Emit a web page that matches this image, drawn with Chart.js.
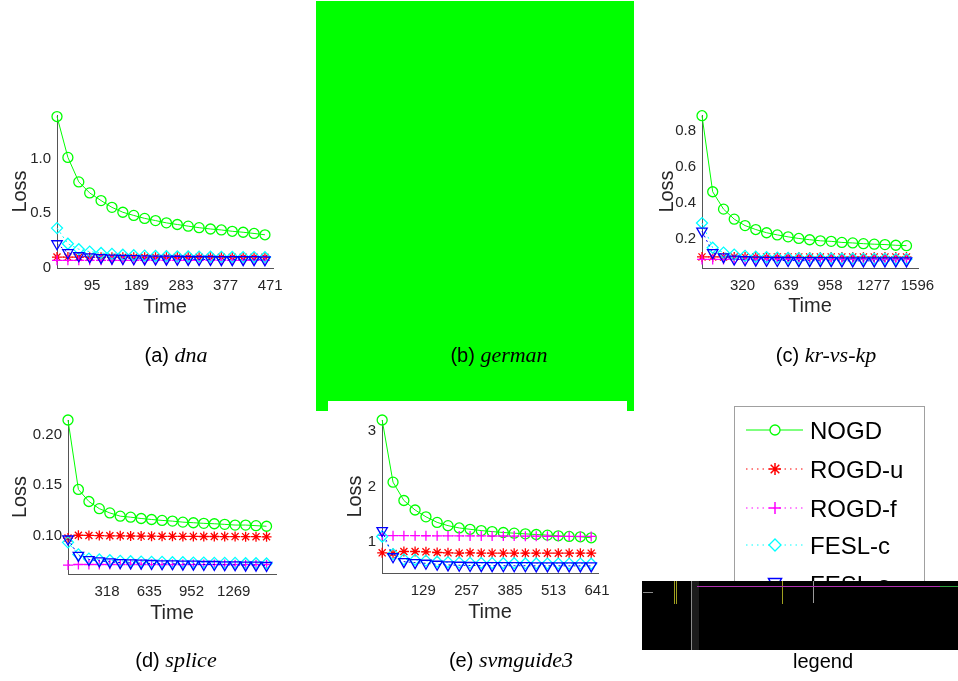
<!DOCTYPE html>
<html>
<head>
<meta charset="utf-8">
<script src="https://cdn.jsdelivr.net/npm/chart.js@4.4.1/dist/chart.umd.min.js"></script>
<style>
  body { margin: 0; background: #fff; }
  #page { position: relative; width: 958px; height: 681px; overflow: hidden; }
  canvas { position: absolute; }
  svg { position: absolute; left: 0; top: 0; }
</style>
</head>
<body>
<div id="page">
  <canvas id="dna" width="290" height="217" style="left:10px;top:100px"></canvas>
  <canvas id="krvskp" width="288" height="216" style="left:657px;top:100px"></canvas>
  <canvas id="splice" width="295" height="218" style="left:10px;top:405px"></canvas>
  <canvas id="svmguide3" width="280" height="217" style="left:345px;top:405px"></canvas>
  <svg width="958" height="681" xmlns="http://www.w3.org/2000/svg">
    <!-- captions -->
    <g fill="#000">
      <text x="176" y="362" text-anchor="middle"><tspan font-family="Liberation Sans" font-size="20">(a) </tspan><tspan font-family="Liberation Serif" font-style="italic" font-size="22">dna</tspan></text>
      <text x="826" y="362" text-anchor="middle"><tspan font-family="Liberation Sans" font-size="20">(c) </tspan><tspan font-family="Liberation Serif" font-style="italic" font-size="22">kr-vs-kp</tspan></text>
      <text x="176" y="667" text-anchor="middle"><tspan font-family="Liberation Sans" font-size="20">(d) </tspan><tspan font-family="Liberation Serif" font-style="italic" font-size="22">splice</tspan></text>
      <text x="511" y="667" text-anchor="middle"><tspan font-family="Liberation Sans" font-size="20">(e) </tspan><tspan font-family="Liberation Serif" font-style="italic" font-size="22">svmguide3</tspan></text>
      <text x="823" y="668" text-anchor="middle" font-family="Liberation Sans" font-size="20">legend</text>
    </g>
    <!-- green block over panel (b) -->
    <rect x="316" y="1" width="318" height="400" fill="#00ff00"/>
    <rect x="316" y="401" width="12" height="10" fill="#00ff00"/>
    <rect x="627" y="401" width="7" height="10" fill="#00ff00"/>
    <text x="499" y="362" text-anchor="middle" fill="#000"><tspan font-family="Liberation Sans" font-size="20">(b) </tspan><tspan font-family="Liberation Serif" font-style="italic" font-size="22">german</tspan></text>
    <!-- legend panel -->
    <g id="legend"></g>
    <!-- black block -->
    <rect x="642" y="581" width="316" height="69" fill="#000"/>
    <rect x="692" y="581" width="7" height="69" fill="#1c1c1c"/>
    <line x1="691.5" y1="581" x2="691.5" y2="650" stroke="#8c8c8c"/>
    <line x1="674.5" y1="581" x2="674.5" y2="604" stroke="#a0a020"/>
    <line x1="676.5" y1="581" x2="676.5" y2="604" stroke="#a0a020"/>
    <line x1="782.5" y1="581" x2="782.5" y2="604" stroke="#a0a020"/>
    <line x1="813.5" y1="581" x2="813.5" y2="603" stroke="#9a9a9a"/>
    <line x1="643" y1="592.5" x2="653" y2="592.5" stroke="#8c8c8c"/>
    <line x1="697" y1="586.5" x2="940" y2="586.5" stroke="#b030b0"/>
    <line x1="940" y1="586.5" x2="958" y2="586.5" stroke="#30a040"/>
  </svg>
</div>
<script>
const seriesNames = ['NOGD', 'ROGD-u', 'ROGD-f', 'FESL-c', 'FESL-s'];

// (a) dna
const dnaTime = [21, 44, 67, 90, 114, 137, 160, 183, 206, 229, 252, 275, 298, 321, 345, 368, 391, 414, 437, 460];
const dnaNOGD = [1.386, 1.012, 0.788, 0.687, 0.617, 0.555, 0.510, 0.481, 0.454, 0.434, 0.413, 0.398, 0.383, 0.369, 0.357, 0.348, 0.336, 0.327, 0.316, 0.304];
const dnaROGDu = [0.100, 0.100, 0.099, 0.099, 0.099, 0.099, 0.099, 0.099, 0.098, 0.098, 0.098, 0.098, 0.098, 0.098, 0.098, 0.098, 0.098, 0.098, 0.098, 0.098];
const dnaROGDf = [0.070, 0.070, 0.070, 0.070, 0.070, 0.070, 0.070, 0.070, 0.070, 0.070, 0.070, 0.070, 0.070, 0.070, 0.070, 0.070, 0.070, 0.070, 0.070, 0.070];
const dnaFESLc = [0.365, 0.222, 0.172, 0.150, 0.137, 0.129, 0.122, 0.117, 0.113, 0.110, 0.108, 0.106, 0.105, 0.104, 0.103, 0.102, 0.101, 0.100, 0.100, 0.099];
const dnaFESLs = [0.222, 0.140, 0.112, 0.102, 0.095, 0.090, 0.087, 0.085, 0.083, 0.082, 0.081, 0.080, 0.079, 0.078, 0.078, 0.077, 0.077, 0.076, 0.076, 0.075];
const dnaXTicks = [95, 189, 283, 377, 471];
const dnaYTicks = [0, 0.5, 1.0];
const dnaYLabels = ['0', '0.5', '1.0'];

// (c) kr-vs-kp
const krTime = [25, 103, 182, 260, 339, 417, 496, 574, 653, 731, 810, 888, 967, 1045, 1124, 1202, 1281, 1359, 1438, 1516];
const krNOGD = [0.886, 0.461, 0.364, 0.308, 0.272, 0.250, 0.232, 0.220, 0.209, 0.200, 0.193, 0.187, 0.184, 0.178, 0.175, 0.171, 0.168, 0.166, 0.162, 0.160];
const krROGDu = [0.097, 0.097, 0.097, 0.097, 0.097, 0.097, 0.097, 0.097, 0.097, 0.097, 0.097, 0.097, 0.097, 0.097, 0.097, 0.097, 0.097, 0.097, 0.097, 0.097];
const krROGDf = [0.083, 0.083, 0.083, 0.083, 0.083, 0.083, 0.083, 0.083, 0.083, 0.083, 0.083, 0.083, 0.083, 0.083, 0.083, 0.083, 0.083, 0.083, 0.083, 0.083];
const krFESLc = [0.286, 0.148, 0.121, 0.110, 0.103, 0.098, 0.095, 0.093, 0.091, 0.090, 0.089, 0.088, 0.088, 0.087, 0.087, 0.086, 0.086, 0.086, 0.085, 0.085];
const krFESLs = [0.241, 0.121, 0.097, 0.085, 0.081, 0.079, 0.078, 0.077, 0.077, 0.076, 0.076, 0.076, 0.076, 0.075, 0.075, 0.075, 0.075, 0.075, 0.075, 0.075];
const krXTicks = [320, 639, 958, 1277, 1596];
const krYTicks = [0.2, 0.4, 0.6, 0.8];
const krYLabels = ['0.2', '0.4', '0.6', '0.8'];

// (d) splice
const spTime = [25, 103, 182, 260, 339, 417, 495, 574, 652, 731, 809, 887, 966, 1044, 1123, 1201, 1279, 1358, 1436, 1515];
const spNOGD = [0.2145, 0.1458, 0.1339, 0.1268, 0.1226, 0.1194, 0.1184, 0.1171, 0.1161, 0.1152, 0.1145, 0.1135, 0.1129, 0.1123, 0.1119, 0.1113, 0.1106, 0.1106, 0.1100, 0.1094];
const spROGDu = [0.0977, 0.1005, 0.1003, 0.1002, 0.1000, 0.1000, 0.0998, 0.0997, 0.0996, 0.0995, 0.0995, 0.0994, 0.0994, 0.0993, 0.0993, 0.0992, 0.0992, 0.0991, 0.0991, 0.0990];
const spROGDf = [0.0710, 0.0716, 0.0716, 0.0716, 0.0716, 0.0716, 0.0716, 0.0716, 0.0715, 0.0715, 0.0715, 0.0715, 0.0715, 0.0715, 0.0715, 0.0715, 0.0714, 0.0714, 0.0714, 0.0714];
const spFESLc = [0.0935, 0.0816, 0.0774, 0.0765, 0.0758, 0.0752, 0.0748, 0.0745, 0.0742, 0.0742, 0.0739, 0.0739, 0.0735, 0.0735, 0.0732, 0.0732, 0.0732, 0.0729, 0.0729, 0.0726];
const spFESLs = [0.0968, 0.0806, 0.0765, 0.0752, 0.0742, 0.0735, 0.0732, 0.0729, 0.0726, 0.0723, 0.0723, 0.0720, 0.0720, 0.0716, 0.0716, 0.0713, 0.0713, 0.0710, 0.0710, 0.0706];
const spXTicks = [318, 635, 952, 1269];
const spYTicks = [0.10, 0.15, 0.20];
const spYLabels = ['0.10', '0.15', '0.20'];

// (e) svmguide3
const svTime = [8, 40, 72, 105, 137, 170, 202, 235, 267, 300, 332, 365, 397, 430, 462, 495, 527, 559, 592, 624];
const svNOGD = [3.194, 2.076, 1.747, 1.576, 1.453, 1.353, 1.294, 1.253, 1.229, 1.206, 1.188, 1.171, 1.159, 1.147, 1.135, 1.124, 1.112, 1.100, 1.094, 1.076];
const svROGDu = [0.806, 0.794, 0.830, 0.830, 0.824, 0.812, 0.806, 0.800, 0.806, 0.800, 0.800, 0.800, 0.800, 0.800, 0.800, 0.800, 0.800, 0.800, 0.800, 0.800];
const svROGDf = [1.120, 1.115, 1.115, 1.115, 1.113, 1.112, 1.112, 1.110, 1.110, 1.110, 1.108, 1.108, 1.107, 1.106, 1.105, 1.104, 1.103, 1.102, 1.100, 1.100];
const svFESLc = [1.100, 0.782, 0.688, 0.680, 0.665, 0.645, 0.635, 0.630, 0.625, 0.622, 0.620, 0.618, 0.618, 0.615, 0.615, 0.613, 0.613, 0.612, 0.612, 0.610];
const svFESLs = [1.206, 0.735, 0.647, 0.629, 0.618, 0.600, 0.588, 0.582, 0.578, 0.576, 0.576, 0.574, 0.574, 0.574, 0.572, 0.572, 0.572, 0.572, 0.571, 0.571];
const svXTicks = [129, 257, 385, 513, 641];
const svYTicks = [1, 2, 3];
const svYLabels = ['1', '2', '3'];

const colors = ['#00ff00', '#ff0000', '#ff00ff', '#00ffff', '#0000ff'];
const markers = ['circle', 'star', 'cross', 'rectRot', 'triangle'];
const markerSize = [5, 5, 5, 5.5, 6];
const FONT = "'Liberation Sans', Arial, sans-serif";
const INK = '#262626';

function makePanel(id, time, values, p) {
    new Chart(document.getElementById(id), {
        type: 'line',
        data: {
            datasets: values.map((vals, i) => ({
                label: seriesNames[i],
                data: time.map((t, k) => ({ x: t, y: vals[k] })),
                borderColor: colors[i],
                borderWidth: 1,
                borderDash: i === 0 ? [] : [2, 3],
                pointStyle: markers[i],
                pointRotation: i === 4 ? 180 : 0,
                pointRadius: markerSize[i],
                pointBorderColor: colors[i],
                pointBackgroundColor: 'rgba(0,0,0,0)',
                pointBorderWidth: 1.3,
                tension: 0,
                fill: false,
                clip: false,
                order: 5 - i
            }))
        },
        options: {
            responsive: false,
            animation: false,
            layout: { padding: p.pad },
            plugins: { legend: { display: false }, tooltip: { enabled: false } },
            scales: {
                x: {
                    type: 'linear',
                    min: p.xMin,
                    max: p.xMax,
                    grid: { display: false, drawTicks: false },
                    border: { display: true, color: '#555', width: 1 },
                    ticks: {
                        autoSkip: false, maxRotation: 0, padding: 9, color: INK,
                        font: { family: FONT, size: 15 },
                        callback: (v, i) => String(p.xTicks[i])
                    },
                    afterBuildTicks: s => { s.ticks = p.xTicks.map(v => ({ value: v })); },
                    afterFit: s => { s.height = p.xAxisH; },
                    title: { display: true, text: 'Time', color: INK, padding: 0, font: { family: FONT, size: 20, lineHeight: 1 } }
                },
                y: {
                    type: 'linear',
                    min: p.yMin,
                    max: p.yMax,
                    grid: { display: false, drawTicks: false },
                    border: { display: true, color: '#555', width: 1 },
                    ticks: {
                        autoSkip: false, padding: 6, color: INK,
                        font: { family: FONT, size: 15 },
                        callback: (v, i) => p.yLabels[i]
                    },
                    afterBuildTicks: s => { s.ticks = p.yTicks.map(v => ({ value: v })); },
                    afterFit: s => { s.width = p.yAxisW; },
                    title: { display: true, text: 'Loss', color: INK, padding: 0, font: { family: FONT, size: 20, lineHeight: 1 } }
                }
            }
        }
    });
}

makePanel('dna', dnaTime, [dnaNOGD, dnaROGDu, dnaROGDf, dnaFESLc, dnaFESLs], {
    xMin: 21, xMax: 477, yMin: 0, yMax: 1.4,
    xTicks: dnaXTicks, yTicks: dnaYTicks, yLabels: dnaYLabels,
    yAxisW: 47, xAxisH: 49, pad: { left: 0, top: 10, right: 27, bottom: 0 }
});
makePanel('krvskp', krTime, [krNOGD, krROGDu, krROGDf, krFESLc, krFESLs], {
    xMin: 25, xMax: 1600, yMin: 0.035, yMax: 0.89,
    xTicks: krXTicks, yTicks: krYTicks, yLabels: krYLabels,
    yAxisW: 45, xAxisH: 48, pad: { left: 0, top: 10, right: 27, bottom: 0 }
});
makePanel('splice', spTime, [spNOGD, spROGDu, spROGDf, spFESLc, spFESLs], {
    xMin: 25, xMax: 1586, yMin: 0.0622, yMax: 0.2145,
    xTicks: spXTicks, yTicks: spYTicks, yLabels: spYLabels,
    yAxisW: 58, xAxisH: 49, pad: { left: 0, top: 12, right: 29, bottom: 0 }
});
makePanel('svmguide3', svTime, [svNOGD, svROGDu, svROGDf, svFESLc, svFESLs], {
    xMin: 7.5, xMax: 644, yMin: 0.443, yMax: 3.194,
    xTicks: svXTicks, yTicks: svYTicks, yLabels: svYLabels,
    yAxisW: 37, xAxisH: 49, pad: { left: 0, top: 12, right: 27, bottom: 0 }
});

// legend panel (box, sample lines, markers, names)
(function drawLegend() {
    const NS = 'http://www.w3.org/2000/svg';
    const g = document.getElementById('legend');
    const add = (tag, attrs, text) => {
        const el = document.createElementNS(NS, tag);
        for (const k in attrs) el.setAttribute(k, attrs[k]);
        if (text) el.textContent = text;
        g.appendChild(el);
        return el;
    };
    add('rect', { x: 734.5, y: 406.5, width: 190, height: 205, fill: '#fff', stroke: '#a0a0a0' });
    const rowY = [430, 469, 508, 545, 584];
    const cx = 775;
    seriesNames.forEach((name, i) => {
        const y = rowY[i];
        const c = colors[i];
        add('line', { x1: 746, y1: y, x2: 803, y2: y, stroke: c, 'stroke-width': 1, 'stroke-dasharray': i === 0 ? 'none' : '1.5 4' });
        if (i === 0) {
            add('circle', { cx, cy: y, r: 5, fill: '#fff', stroke: c, 'stroke-width': 1.3 });
        } else if (i === 1) {
            const r = 6;
            add('path', { d: `M${cx - r} ${y}H${cx + r}M${cx} ${y - r}V${y + r}M${cx - 4.3} ${y - 4.3}L${cx + 4.3} ${y + 4.3}M${cx - 4.3} ${y + 4.3}L${cx + 4.3} ${y - 4.3}`, stroke: c, 'stroke-width': 1.5 });
        } else if (i === 2) {
            add('path', { d: `M${cx - 6} ${y}H${cx + 6}M${cx} ${y - 6}V${y + 6}`, stroke: c, 'stroke-width': 1.5 });
        } else if (i === 3) {
            add('polygon', { points: `${cx},${y - 6} ${cx + 6},${y} ${cx},${y + 6} ${cx - 6},${y}`, fill: '#fff', stroke: c, 'stroke-width': 1.3 });
        } else {
            add('polygon', { points: `${cx - 6.5},${y - 5.5} ${cx + 6.5},${y - 5.5} ${cx},${y + 6}`, fill: '#fff', stroke: c, 'stroke-width': 1.5 });
        }
        add('text', { x: 810, y: y + 9, 'font-family': 'Liberation Sans', 'font-size': 24, fill: '#000' }, name);
    });
})();
</script>
</body>
</html>
